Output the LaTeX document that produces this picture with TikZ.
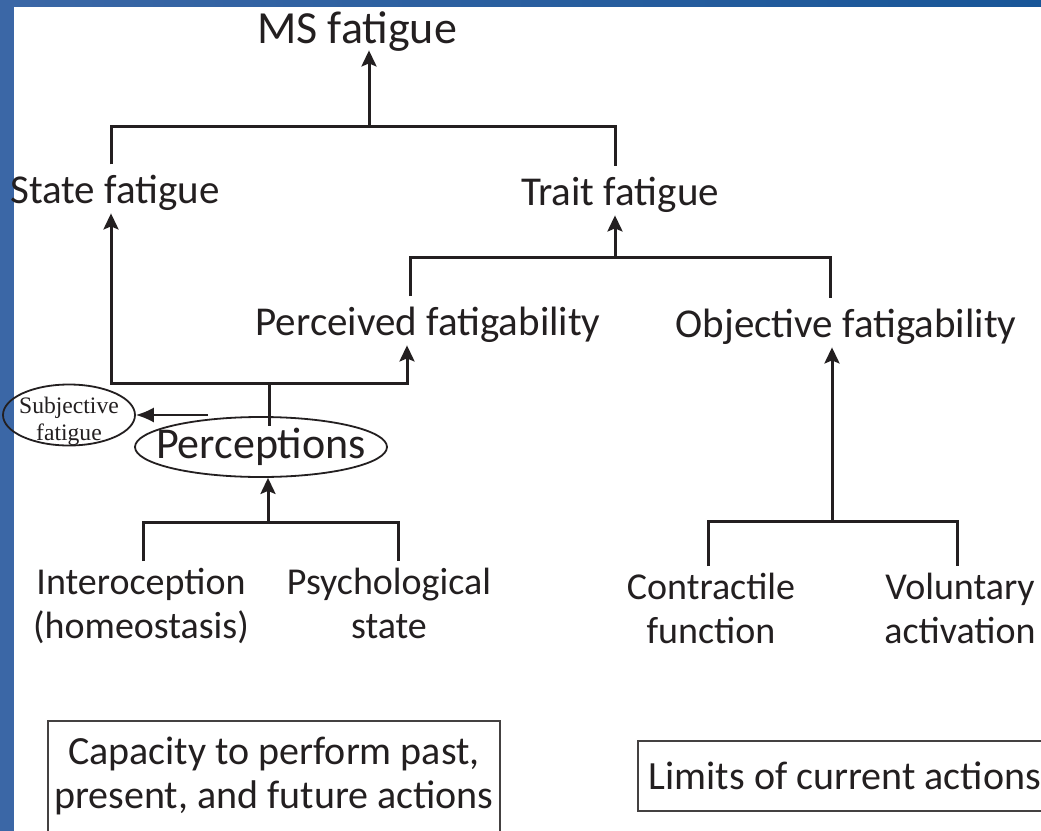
\documentclass[tikz,border=0pt]{standalone}
\usepackage{fontspec}
\setmainfont{Carlito}
\newfontfamily\subjfont{Liberation Serif}
\usetikzlibrary{arrows.meta, shapes.geometric}
\definecolor{ink}{RGB}{35,31,32}
\definecolor{bandblue}{RGB}{59,103,166}
\definecolor{banddark}{RGB}{24,86,152}

\begin{document}
\begin{tikzpicture}[x=0.5pt, y=-0.5pt,
  line/.style={draw=ink, line width=1.5pt},
  arr/.style={line, -{Stealth[length=8pt, width=7.5pt, inset=1.5pt]}},
  lbl/.style={text=ink, inner xsep=0pt, inner ysep=5pt, text depth=0pt, font=\fontsize{20.5}{22}\selectfont},
  leaf/.style={text=ink, inner xsep=0pt, inner ysep=3.5pt, align=center, font=\fontsize{19}{22}\selectfont},
  oval/.style={ellipse, draw=ink, line width=0.9pt, text=ink},
  frame/.style={draw=ink!85, line width=0.9pt, text=ink, align=center, font=\fontsize{20}{22}\selectfont}]
  \useasboundingbox (0,0) rectangle (1041,831);
  \clip (0,0) rectangle (1041,831);
  \fill[white] (0,0) rectangle (1041,831);
  \fill[bandblue] (0,0) rectangle (14,831);
  \shade[left color=bandblue, right color=banddark] (0,0) rectangle (1041,6);

  \node[lbl, inner ysep=3.5pt, font=\fontsize{23}{24}\selectfont] (ms) at (357,43) [anchor=base] {MS fatigue};
  \node[lbl] (state) at (115,203) [anchor=base] {State fatigue};
  \node[lbl] (trait) at (620,205) [anchor=base] {Trait fatigue};
  \node[lbl] (perceived) at (428,335) [anchor=base] {Perceived fatigability};
  \node[lbl] (objective) at (846,337) [anchor=base] {Objective fatigability};
  \node[oval, inner xsep=-12pt, inner ysep=-3pt, minimum width=126pt, minimum height=30pt, font=\fontsize{22}{24}\selectfont] (perc) at (261,447) {Perceptions};
  \node[oval, inner sep=-3pt, minimum width=66pt, minimum height=30.5pt, font=\subjfont\fontsize{11.8}{13.5}\selectfont] (subj) at (69,415) {\raisebox{-12.5pt}[0pt][0pt]{\begin{tabular}[b]{@{}c@{}}Subjective\\fatigue\end{tabular}}};
  \node[leaf] (intero) at (141,561) [anchor=north] {Interoception\\(homeostasis)};
  \node[leaf] (psych) at (389,561) [anchor=north] {Psychological\\state};
  \node[leaf] (contr) at (711,566) [anchor=north] {Contractile\\function};
  \node[leaf] (volun) at (960,566) [anchor=north] {Voluntary\\activation};
  \node[frame, anchor=north, inner ysep=8pt, text depth=60pt, minimum width=224pt] (capacity) at (274,720) {Capacity to perform past,\\present, and future actions};
  \node[frame, anchor=west, inner xsep=5.5pt, minimum height=35pt] (limits) at (637,776) {Limits of current actions};

  \coordinate (j-ms) at (369,126);
  \coordinate (j-trait) at (615,257);
  \coordinate (j-perc) at (269,383);
  \coordinate (j-in) at (268,522);
  \coordinate (j-obj) at (832,521);
  \coordinate (s-from) at (208,415);

  \draw[line] ([xshift=-2pt]state.north) |- (j-ms) -| ([xshift=-2.5pt]trait.north);
  \draw[arr] (j-ms) -- (j-ms |- ms.south);
  \draw[line] ([xshift=-9pt]perceived.north) |- (j-trait) -| ([xshift=-8pt]objective.north);
  \draw[arr] (j-trait) -- (j-trait |- trait.south);
  \draw[arr] (j-perc) -| ([xshift=-2pt]state.south);
  \draw[arr] (j-perc) -| ([xshift=-10.5pt]perceived.south);
  \draw[line] (j-perc) -- ([yshift=-5pt]j-perc |- perc.north);
  \draw[line] ([xshift=1pt]intero.north) |- (j-in) -| ([xshift=4.5pt]psych.north);
  \draw[arr] (j-in) -- (j-in |- perc.south);
  \draw[line] ([xshift=-1.5pt]contr.north) |- (j-obj) -| ([xshift=-1.5pt]volun.north);
  \draw[arr] (j-obj) -- (j-obj |- objective.south);
  \draw[draw=ink, line width=0.8pt, -{Latex[length=9pt, width=7.5pt]}] (s-from) -- (subj);
\end{tikzpicture}
\end{document}
